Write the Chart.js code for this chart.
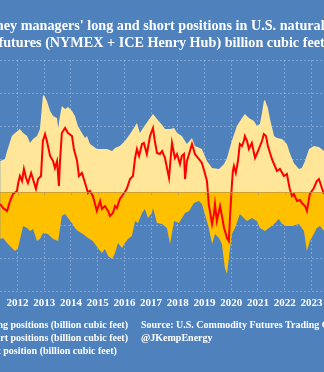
<!DOCTYPE html>
<html><head><meta charset="utf-8">
<script src="https://cdn.jsdelivr.net/npm/chart.js@4/dist/chart.umd.min.js"></script>
<style>
html,body{margin:0;padding:0;background:#4F81BD;overflow:hidden}
#wrap{position:relative;width:324px;height:372px}
</style></head>
<body><div id="wrap"><canvas id="c" width="324" height="372"></canvas></div>
<script>
// ---- data (decimal years, billion cubic feet) ----
const longX=[2011.35,2011.53,2011.61,2011.79,2011.91,2012.09,2012.21,2012.36,2012.47,2012.58,2012.73,2012.84,2012.95,2012.99,2013.10,2013.22,2013.33,2013.48,2013.52,2013.59,2013.66,2013.78,2013.89,2014.04,2014.15,2014.26,2014.41,2014.53,2014.60,2014.71,2014.82,2014.97,2015.09,2015.35,2015.54,2015.65,2015.83,2016.02,2016.21,2016.40,2016.47,2016.58,2016.70,2016.88,2017.07,2017.22,2017.41,2017.52,2017.71,2017.86,2017.97,2018.15,2018.34,2018.53,2018.64,2018.90,2019.09,2019.28,2019.54,2019.73,2019.84,2020.02,2020.21,2020.40,2020.51,2020.66,2020.85,2020.96,2021.07,2021.15,2021.22,2021.26,2021.37,2021.45,2021.60,2021.71,2021.90,2022.08,2022.19,2022.34,2022.53,2022.64,2022.76,2022.91,2023.09,2023.28,2023.47];
const longValues=[939,1000,1242,1697,1788,1909,1788,1697,1485,1606,1697,1909,2909,2939,2757,2454,2303,2242,1939,2303,2606,2515,2576,2454,2303,2000,1788,1636,1697,1455,1394,1303,1303,1303,1242,1333,1394,1545,1757,2000,2091,1788,1939,2151,2363,2212,2030,1909,1909,1939,1788,1697,1455,1636,1394,1303,939,727,697,848,1030,1545,2000,2242,2363,2242,2151,2000,2060,2394,2757,2788,2545,2212,1697,1636,1606,1455,1182,879,697,727,939,1303,1394,1364,1242];

const shortX=[2011.35,2011.46,2011.61,2011.79,2011.91,2012.02,2012.21,2012.36,2012.47,2012.58,2012.73,2012.84,2012.95,2013.14,2013.33,2013.52,2013.66,2013.78,2013.89,2014.04,2014.15,2014.26,2014.45,2014.64,2014.82,2015.01,2015.16,2015.27,2015.39,2015.54,2015.65,2015.76,2015.91,2016.02,2016.13,2016.28,2016.40,2016.51,2016.66,2016.77,2016.88,2017.03,2017.07,2017.22,2017.41,2017.59,2017.71,2017.86,2018.04,2018.27,2018.42,2018.60,2018.79,2018.90,2019.01,2019.16,2019.28,2019.39,2019.54,2019.65,2019.76,2019.84,2019.91,2020.02,2020.14,2020.32,2020.47,2020.59,2020.77,2020.96,2021.07,2021.26,2021.41,2021.60,2021.78,2021.90,2022.08,2022.27,2022.53,2022.72,2022.83,2022.94,2023.09,2023.20,2023.32,2023.47];
const shortValues=[-1424,-1394,-1545,-1697,-1788,-1697,-1030,-1091,-1182,-1121,-1485,-1424,-1242,-1273,-1424,-1485,-727,-667,-788,-939,-1091,-1182,-1273,-1394,-1485,-1697,-1848,-1727,-1939,-2030,-1848,-1545,-1697,-1545,-1424,-1333,-879,-939,-636,-515,-788,-636,-485,-939,-970,-1091,-1576,-879,-939,-636,-576,-333,-273,-364,-667,-1091,-1576,-1273,-1394,-1576,-2303,-2485,-2000,-1273,-1091,-667,-788,-879,-788,-879,-1091,-1182,-1091,-970,-818,-970,-1030,-1030,-970,-1182,-1788,-1485,-1273,-1091,-1030,-1182];

const netX=[2011.35,2011.46,2011.61,2011.72,2011.83,2011.98,2012.02,2012.09,2012.17,2012.24,2012.32,2012.39,2012.51,2012.58,2012.69,2012.77,2012.88,2012.95,2013.03,2013.10,2013.22,2013.33,2013.40,2013.48,2013.55,2013.59,2013.66,2013.78,2013.89,2014.04,2014.11,2014.23,2014.30,2014.41,2014.53,2014.64,2014.71,2014.82,2014.97,2015.09,2015.16,2015.27,2015.39,2015.46,2015.57,2015.65,2015.72,2015.83,2015.91,2016.02,2016.10,2016.21,2016.32,2016.40,2016.47,2016.55,2016.66,2016.73,2016.84,2016.96,2017.07,2017.14,2017.22,2017.33,2017.41,2017.52,2017.67,2017.78,2017.89,2017.97,2018.08,2018.15,2018.23,2018.27,2018.34,2018.42,2018.53,2018.64,2018.79,2018.90,2019.01,2019.09,2019.16,2019.20,2019.28,2019.35,2019.39,2019.46,2019.58,2019.65,2019.73,2019.84,2019.91,2019.95,2020.02,2020.06,2020.10,2020.17,2020.25,2020.32,2020.40,2020.47,2020.51,2020.59,2020.66,2020.77,2020.89,2021.00,2021.15,2021.22,2021.30,2021.37,2021.45,2021.52,2021.60,2021.71,2021.82,2021.97,2022.08,2022.19,2022.27,2022.34,2022.46,2022.57,2022.64,2022.76,2022.83,2022.94,2023.09,2023.20,2023.28,2023.39,2023.47];
const netValues=[-364,-485,-576,-273,-61,30,242,485,333,697,424,273,576,394,91,394,485,1545,1757,1545,1091,939,727,939,182,939,1788,1939,1788,1697,1303,939,485,576,273,-30,30,-121,-576,-273,-515,-424,-576,-727,-636,-424,-485,-212,-121,0,121,394,485,1030,1303,1091,1454,1485,1151,1697,1939,1545,1182,1151,1242,1030,424,1485,1030,1151,848,1091,1151,394,939,1151,1454,1151,1000,879,576,333,-400,-576,-970,-667,-364,-879,-424,-727,-1091,-1394,-1485,-788,182,636,788,576,939,1454,1394,1545,1697,1545,1303,1485,1030,1242,1545,1757,1697,1394,1182,1000,848,636,697,485,545,91,-121,-61,-273,-242,-333,-424,-576,-61,121,333,394,121,-61];

const yearTicks=[2012,2013,2014,2015,2016,2017,2018,2019,2020,2021,2022,2023];
const xRange=[2011.345,2023.47];
const yRange=[-3000,4000];
const titleLines=["Money managers' long and short positions in U.S. natural","gas futures (NYMEX + ICE Henry Hub) billion cubic feet"];
const legendLabels=["Long positions (billion cubic feet)","Short positions (billion cubic feet)","Net position (billion cubic feet)"];
const sourceLines=["Source: U.S. Commodity Futures Trading Commission","@JKempEnergy"];

const BG='#4F81BD', LONG='#FFE699', SHORT='#FFC000', NET='#FF0000';
const SERIF='"Liberation Serif", "DejaVu Serif", serif';

function pts(xs,vs){return xs.map((x,i)=>({x:x,y:vs[i]}));}

const bgPlugin={id:'bg',beforeDraw(ch){const c=ch.ctx;c.save();c.fillStyle=BG;c.fillRect(0,0,ch.width,ch.height);c.restore();}};
const zeroPlugin={id:'zero',afterDatasetsDraw(ch){
  const c=ch.ctx, y=Math.round(ch.scales.y.getPixelForValue(0))+0.5, a=ch.chartArea;
  c.save();c.strokeStyle='rgba(190,150,70,0.75)';c.lineWidth=1;
  c.beginPath();c.moveTo(a.left,y);c.lineTo(a.right,y);c.stroke();
  c.strokeStyle='rgba(150,150,150,0.6)';
  yearTicks.forEach(v=>{const x=Math.round(ch.scales.x.getPixelForValue(v))+0.5;c.beginPath();c.moveTo(x,y);c.lineTo(x,y+3);c.stroke();});
  c.restore();}};
const textPlugin={id:'texts',afterDraw(ch){
  const c=ch.ctx;c.save();c.fillStyle='#FFFFFF';
  c.font='bold 14.2px '+SERIF;c.textAlign='center';c.textBaseline='alphabetic';
  c.fillText(titleLines[0],150,30);c.fillText(titleLines[1],150,46.5);
  c.font='bold 10px '+SERIF;c.textAlign='left';
  const w1=c.measureText(legendLabels[0]).width,w2=c.measureText(legendLabels[1]).width;
  const x1=128-w1,x2=128-w2;
  c.fillText(legendLabels[0],x1,327.5);
  c.fillText(legendLabels[1],x2,340.5);
  c.fillText(legendLabels[2],x1,353.5);
  c.fillText(sourceLines[0],141,327.5);
  c.fillText(sourceLines[1],141,340.5);
  c.restore();}};

new Chart(document.getElementById('c'),{
  type:'line',
  data:{datasets:[
    {label:legendLabels[2],data:pts(netX,netValues),borderColor:NET,borderWidth:2,pointRadius:0,fill:false,tension:0,order:0},
    {label:legendLabels[0],data:pts(longX,longValues),borderWidth:0,borderColor:LONG,backgroundColor:LONG,pointRadius:0,fill:'origin',tension:0,order:2},
    {label:legendLabels[1],data:pts(shortX,shortValues),borderWidth:0,borderColor:SHORT,backgroundColor:SHORT,pointRadius:0,fill:'origin',tension:0,order:1}
  ]},
  options:{
    responsive:false,animation:false,devicePixelRatio:1,
    layout:{padding:{top:60,left:0,right:0,bottom:0}},
    plugins:{legend:{display:false},title:{display:false},tooltip:{enabled:false}},
    scales:{
      x:{type:'linear',min:xRange[0],max:xRange[1],
        afterBuildTicks:s=>{s.ticks=yearTicks.map(v=>({value:v}));},
        afterFit:s=>{s.height=81;s.paddingLeft=0;s.paddingRight=0;},
        ticks:{color:'#FFFFFF',font:{family:SERIF,size:11,weight:'bold'},padding:6,maxRotation:0,autoSkip:false,callback:v=>String(v)},
        grid:{color:'rgba(255,255,255,0.28)',drawTicks:false,lineWidth:1},
        border:{display:false,dash:[2,2]}},
      y:{min:yRange[0],max:yRange[1],
        afterFit:s=>{s.width=0;s.paddingTop=0;s.paddingBottom=0;},
        ticks:{display:false,stepSize:1000},
        grid:{color:'rgba(255,255,255,0.28)',drawTicks:false,lineWidth:1},
        border:{display:false,dash:[2,2]}}
    }
  },
  plugins:[bgPlugin,zeroPlugin,textPlugin]
});
</script>
</body></html>
